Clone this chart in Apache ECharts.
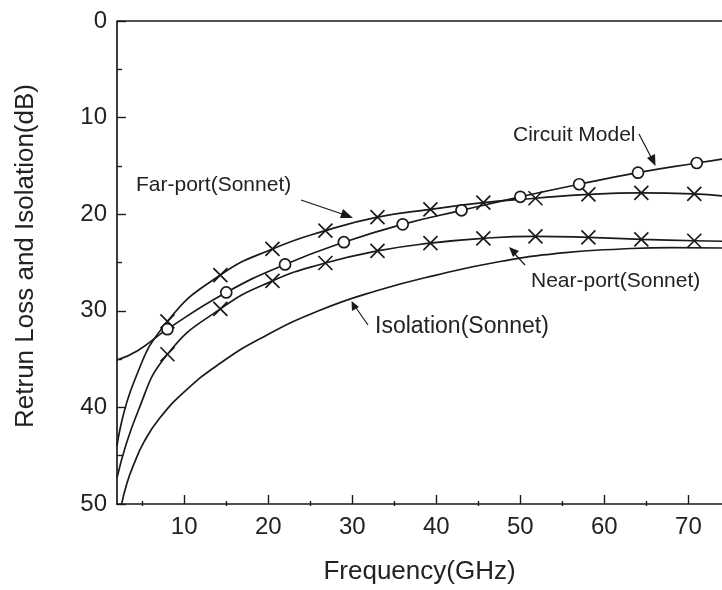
<!DOCTYPE html>
<html>
<head>
<meta charset="utf-8">
<script src="https://cdn.jsdelivr.net/npm/echarts@6/dist/echarts.min.js"></script>
<style>
html,body{margin:0;padding:0;background:#fff;}
#chart{width:722px;height:590px;}
</style>
</head>
<body>
<div id="chart"></div>
<script>
// ---- Data ----
const xTickLabels = [10, 20, 30, 40, 50, 60, 70];
const xMinorTicks = [5, 15, 25, 35, 45, 55, 65];
const yTickLabels = [0, 10, 20, 30, 40, 50];

// Far-port (Sonnet): marker points
const farMarkF = [8.0, 14.3, 20.5, 26.8, 33.0, 39.3, 45.6, 51.8, 58.1, 64.4, 70.7];
const farMarkV = [31.1, 26.3, 23.6, 21.7, 20.3, 19.5, 18.8, 18.35, 17.95, 17.8, 17.9];
// Far-port curve points without markers
const farLineF = [2.0, 4.0, 74.0];
const farLineV = [44.0, 37.4, 18.1];

// Near-port (Sonnet)
const nearMarkF = [8.0, 14.3, 20.5, 26.8, 33.0, 39.3, 45.6, 51.8, 58.1, 64.4, 70.7];
const nearMarkV = [34.5, 29.8, 26.9, 25.05, 23.8, 23.0, 22.5, 22.3, 22.4, 22.6, 22.75];
const nearLineF = [2.0, 4.5, 74.0];
const nearLineV = [47.3, 40.4, 22.8];

// Circuit Model
const cmMarkF = [8.0, 15.0, 22.0, 29.0, 36.0, 43.0, 50.0, 57.0, 64.0, 71.0];
const cmMarkV = [31.9, 28.1, 25.2, 22.9, 21.05, 19.6, 18.2, 16.9, 15.7, 14.7];
const cmLineF = [2.0, 4.5, 74.0];
const cmLineV = [35.1, 34.1, 14.3];

// Isolation (Sonnet), no markers
const isoF = [2.55, 3.2, 4.0, 5.2, 7.0, 10.0, 14.0, 19.0, 26.0, 33.0, 40.0, 47.6, 55.0, 62.0, 68.0, 74.0];
const isoV = [50.0, 47.8, 45.9, 43.6, 41.2, 38.4, 35.6, 32.9, 30.0, 27.9, 26.3, 24.9, 24.0, 23.6, 23.45, 23.5];

// ---- Build series data ----
function buildCurve(markF, markV, lineF, lineV, symbol, size) {
  const pts = [];
  markF.forEach((f, i) => pts.push({ value: [f, markV[i]], symbol: symbol, symbolSize: size }));
  lineF.forEach((f, i) => pts.push({ value: [f, lineV[i]], symbol: 'none' }));
  pts.sort((a, b) => a.value[0] - b.value[0]);
  return pts;
}
const xPath = 'path://M0,0L10,10M10,0L0,10';
const ink = '#1a1a1a';
const font = '"Liberation Sans", Arial, sans-serif';

const chart = echarts.init(document.getElementById('chart'), null, { renderer: 'canvas' });

const lineBase = {
  type: 'line', smooth: 0.5, showAllSymbol: true, clip: true,
  lineStyle: { color: ink, width: 1.7 },
  itemStyle: { color: '#fff', borderColor: ink, borderWidth: 1.7 },
  emphasis: { disabled: true }, animation: false, z: 3
};

chart.setOption({
  animation: false,
  backgroundColor: '#fff',
  textStyle: { fontFamily: font },
  grid: { left: 117, right: 0, top: 21, bottom: 84, containLabel: false },
  xAxis: [
    {
      type: 'value', min: 2, max: 74, position: 'bottom',
      name: 'Frequency(GHz)', nameLocation: 'middle', nameGap: 55,
      nameTextStyle: { fontSize: 26, color: '#222', fontFamily: font },
      axisLine: { show: true, onZero: false, lineStyle: { color: ink, width: 1.7 } },
      axisTick: { show: true, inside: true, length: 9, customValues: xTickLabels, lineStyle: { color: ink, width: 1.4 } },
      axisLabel: { show: true, customValues: xTickLabels, margin: 11, fontSize: 24, color: '#222', fontFamily: font },
      splitLine: { show: false }
    },
    {
      // minor ticks: a top-positioned axis shifted down onto the bottom edge
      type: 'value', min: 2, max: 74, position: 'top', offset: -485,
      axisLine: { show: false },
      axisTick: { show: true, inside: false, length: 5, customValues: xMinorTicks, lineStyle: { color: ink, width: 1.4 } },
      axisLabel: { show: false },
      splitLine: { show: false }
    }
  ],
  yAxis: {
    type: 'value', min: 0, max: 50, interval: 10, inverse: true,
    axisLine: { show: true, onZero: false, lineStyle: { color: ink, width: 1.7 } },
    axisTick: { show: true, inside: true, length: 9, lineStyle: { color: ink, width: 1.4 } },
    minorTick: { show: true, splitNumber: 2, length: 5, lineStyle: { color: ink, width: 1.4 } },
    axisLabel: { margin: 10, fontSize: 24, color: '#222', fontFamily: font, customValues: yTickLabels },
    splitLine: { show: false }
  },
  series: [
    Object.assign({}, lineBase, { name: 'Far-port(Sonnet)', data: buildCurve(farMarkF, farMarkV, farLineF, farLineV, xPath, 14) }),
    Object.assign({}, lineBase, { name: 'Near-port(Sonnet)', data: buildCurve(nearMarkF, nearMarkV, nearLineF, nearLineV, xPath, 14) }),
    Object.assign({}, lineBase, { name: 'Circuit Model', data: buildCurve(cmMarkF, cmMarkV, cmLineF, cmLineV, 'circle', 11) }),
    Object.assign({}, lineBase, { name: 'Isolation(Sonnet)', data: isoF.map((f, i) => ({ value: [f, isoV[i]], symbol: 'none' })) })
  ],
  graphic: [
    { type: 'line', shape: { x1: 117, y1: 21, x2: 722, y2: 21 }, style: { stroke: ink, lineWidth: 1.7 } },

    { type: 'text', x: 26, y: 256, rotation: Math.PI / 2,
      style: { text: 'Retrun Loss and Isolation(dB)', font: '26px ' + font, fill: '#222', align: 'center', verticalAlign: 'middle' } },

    { type: 'text', left: 136, top: 175, style: { text: 'Far-port(Sonnet)', font: '21px ' + font, fill: '#222' } },
    { type: 'line', shape: { x1: 301, y1: 200, x2: 348, y2: 216 }, style: { stroke: ink, lineWidth: 1.2 } },
    { type: 'polygon', shape: { points: [[353, 218], [340, 218], [343, 209]] }, style: { fill: ink } },

    { type: 'text', left: 513, top: 125, style: { text: 'Circuit Model', font: '21px ' + font, fill: '#222' } },
    { type: 'line', shape: { x1: 639, y1: 134, x2: 653, y2: 161 }, style: { stroke: ink, lineWidth: 1.2 } },
    { type: 'polygon', shape: { points: [[655.5, 166], [647, 158], [655, 154]] }, style: { fill: ink } },

    { type: 'text', left: 531, top: 271, style: { text: 'Near-port(Sonnet)', font: '21px ' + font, fill: '#222' } },
    { type: 'line', shape: { x1: 525, y1: 265, x2: 512, y2: 251 }, style: { stroke: ink, lineWidth: 1.2 } },
    { type: 'polygon', shape: { points: [[509, 247], [519, 251], [513, 257]] }, style: { fill: ink } },

    { type: 'text', left: 375, top: 315, style: { text: 'Isolation(Sonnet)', font: '23px ' + font, fill: '#222' } },
    { type: 'line', shape: { x1: 368, y1: 325, x2: 354, y2: 305 }, style: { stroke: ink, lineWidth: 1.2 } },
    { type: 'polygon', shape: { points: [[351.5, 301], [359, 307], [352, 311]] }, style: { fill: ink } }
  ]
});
</script>
</body>
</html>
